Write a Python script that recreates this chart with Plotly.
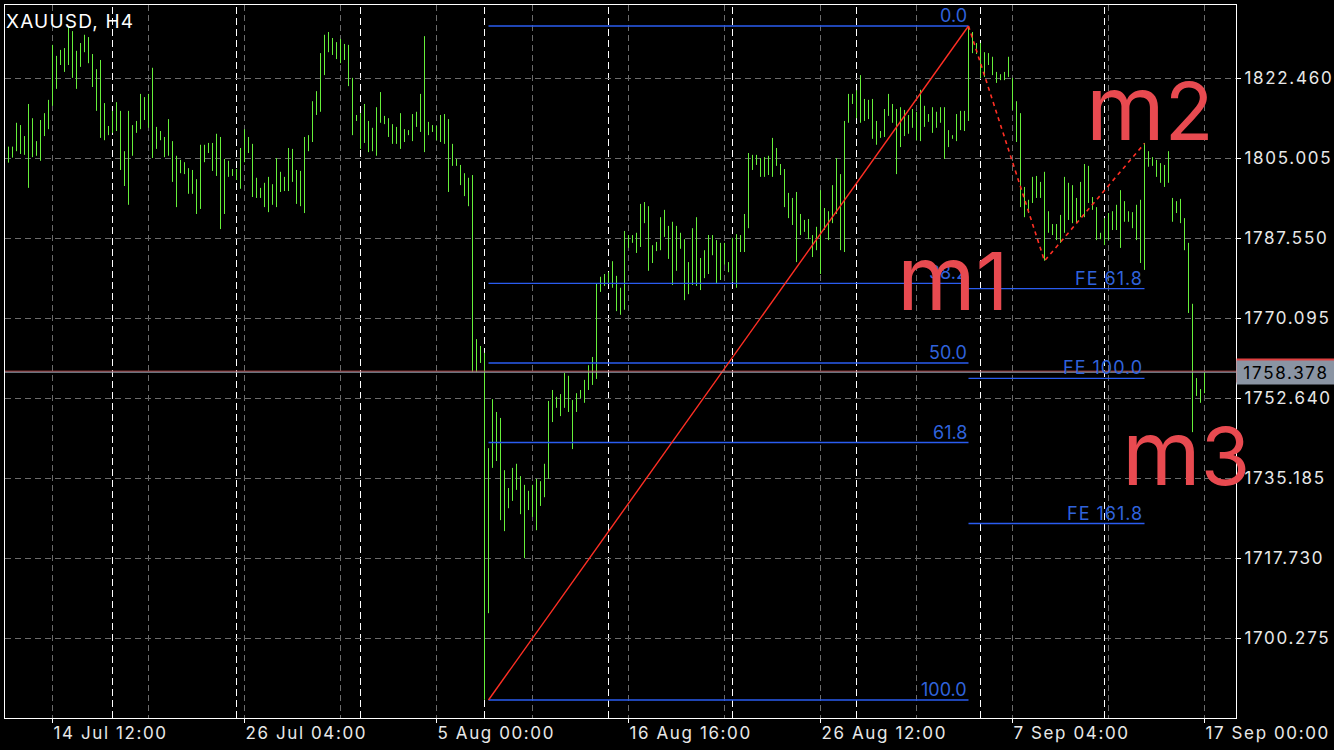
import plotly.graph_objects as go

# ---- instrument / timeframe ----
symbol_title = "XAUUSD, H4"

# ---- H4 bar ranges (index 0 = oldest bar) ----
highs = [
    1807.6, 1807.6, 1812.8, 1812.3, 1809.9, 1816.9, 1813.8, 1808.8, 1813.4, 1814.9,
    1817.8, 1829.8, 1827.4, 1828.7, 1829.1, 1833.9, 1832.8, 1828.5, 1830.2, 1832.0,
    1831.5, 1827.8, 1824.5, 1826.5, 1817.1, 1812.1, 1815.4, 1817.3, 1815.4, 1806.6,
    1815.4, 1812.3, 1813.2, 1819.1, 1818.4, 1819.1, 1824.8, 1811.9, 1811.0, 1809.7,
    1813.6, 1808.8, 1805.6, 1804.7, 1804.2, 1802.9, 1802.5, 1800.5, 1808.0, 1808.0,
    1808.4, 1808.4, 1810.4, 1809.7, 1804.9, 1804.5, 1802.7, 1802.7, 1807.3, 1811.4,
    1809.7, 1808.2, 1800.8, 1798.6, 1799.7, 1801.0, 1799.4, 1805.1, 1802.1, 1801.0,
    1807.3, 1807.1, 1802.5, 1802.3, 1809.7, 1810.1, 1817.5, 1819.7, 1828.0, 1832.0,
    1832.6, 1831.3, 1830.4, 1831.1, 1830.0, 1829.8, 1822.6, 1814.5, 1814.9, 1816.9,
    1813.2, 1811.7, 1816.2, 1819.5, 1814.3, 1813.8, 1812.5, 1811.9, 1814.9, 1811.4,
    1811.2, 1814.7, 1815.2, 1819.1, 1831.7, 1813.0, 1812.3, 1812.1, 1814.5, 1814.7,
    1813.6, 1808.2, 1804.9, 1803.6, 1801.8, 1800.8, 1801.4, 1765.6, 1764.1, 1762.6,
    1741.8, 1752.5, 1749.7, 1748.4, 1737.0, 1733.1, 1737.5, 1738.4, 1735.7, 1733.8,
    1732.5, 1733.8, 1735.1, 1734.6, 1738.4, 1752.1, 1754.5, 1753.0, 1753.6, 1758.2,
    1757.6, 1752.3, 1753.8, 1754.5, 1756.7, 1759.9, 1761.7, 1777.8, 1779.2, 1779.8,
    1780.2, 1782.6, 1779.4, 1776.8, 1789.2, 1788.3, 1788.3, 1788.8, 1795.1, 1795.5,
    1794.6, 1786.1, 1786.8, 1792.2, 1793.8, 1790.3, 1791.2, 1790.3, 1788.8, 1787.4,
    1782.4, 1789.8, 1792.2, 1783.3, 1785.0, 1788.3, 1788.3, 1787.2, 1786.6, 1786.6,
    1782.4, 1787.7, 1788.5, 1788.3, 1792.9, 1806.2, 1805.8, 1805.8, 1805.1, 1805.3,
    1805.6, 1809.5, 1807.3, 1803.8, 1802.7, 1797.5, 1796.4, 1797.7, 1792.9, 1791.6,
    1791.8, 1788.3, 1790.1, 1798.1, 1794.2, 1793.5, 1799.2, 1805.1, 1801.6, 1813.2,
    1819.1, 1819.1, 1819.9, 1823.2, 1818.0, 1817.8, 1818.0, 1813.2, 1811.0, 1815.8,
    1819.1, 1816.9, 1815.8, 1816.2, 1815.6, 1814.5, 1815.8, 1815.2, 1820.0, 1816.5,
    1814.7, 1816.2, 1815.2, 1816.2, 1816.2, 1811.2, 1810.1, 1814.7, 1815.4, 1815.4,
    1833.9, 1832.6, 1830.2, 1830.2, 1828.2, 1828.0, 1827.2, 1823.9, 1823.4, 1823.9,
    1827.2, 1822.6, 1817.5, 1814.9, 1798.8, 1796.0, 1801.0, 1801.2, 1799.9, 1802.1,
    1793.5, 1790.7, 1790.7, 1792.7, 1801.0, 1799.7, 1799.2, 1796.4, 1799.9, 1803.8,
    1803.4, 1796.6, 1794.4, 1788.8, 1792.0, 1793.1, 1793.5, 1794.9, 1798.1, 1795.7,
    1793.5, 1793.3, 1794.9, 1796.0, 1808.4, 1806.6, 1805.3, 1804.7, 1804.0, 1803.6,
    1806.6, 1796.4, 1795.7, 1796.2, 1792.0, 1786.6, 1773.3, 1757.1, 1754.7, 1758.4,
]
lows = [
    1804.1, 1805.2, 1806.6, 1806.0, 1805.8, 1798.6, 1805.3, 1805.6, 1804.5, 1809.9,
    1811.4, 1816.5, 1820.2, 1825.4, 1823.9, 1825.4, 1822.6, 1820.2, 1825.0, 1828.2,
    1825.8, 1820.6, 1815.4, 1809.5, 1809.0, 1810.1, 1810.6, 1811.0, 1802.5, 1799.0,
    1794.9, 1805.6, 1810.6, 1811.4, 1813.4, 1811.7, 1805.1, 1807.1, 1809.0, 1805.3,
    1805.6, 1799.9, 1794.4, 1801.8, 1801.6, 1797.3, 1797.3, 1792.9, 1794.0, 1804.2,
    1806.2, 1802.3, 1801.2, 1789.6, 1792.9, 1801.0, 1801.2, 1800.3, 1798.4, 1804.2,
    1806.2, 1796.6, 1796.4, 1796.4, 1794.4, 1793.3, 1794.9, 1794.4, 1797.7, 1797.9,
    1797.9, 1799.9, 1795.1, 1794.6, 1793.1, 1806.6, 1808.6, 1814.5, 1815.2, 1823.2,
    1828.2, 1827.6, 1826.7, 1825.8, 1826.5, 1820.8, 1810.1, 1813.2, 1807.1, 1808.4,
    1806.4, 1806.6, 1805.6, 1812.8, 1812.5, 1809.7, 1808.2, 1808.2, 1807.1, 1808.6,
    1810.1, 1808.8, 1811.9, 1810.8, 1806.4, 1810.1, 1810.8, 1809.0, 1808.6, 1808.2,
    1797.7, 1803.4, 1803.4, 1799.2, 1796.8, 1794.6, 1758.4, 1758.4, 1760.4, 1686.9,
    1705.8, 1737.5, 1739.0, 1726.1, 1723.7, 1728.7, 1730.3, 1732.7, 1727.4, 1717.8,
    1728.3, 1726.8, 1723.9, 1729.2, 1731.1, 1735.1, 1747.5, 1750.6, 1748.8, 1750.6,
    1749.7, 1741.6, 1749.7, 1752.7, 1751.7, 1754.5, 1755.6, 1756.9, 1775.9, 1777.2,
    1777.8, 1776.8, 1771.7, 1770.9, 1772.0, 1785.5, 1786.6, 1784.4, 1785.7, 1790.9,
    1780.5, 1782.2, 1784.8, 1785.0, 1787.9, 1783.1, 1777.4, 1780.5, 1785.3, 1774.1,
    1775.4, 1777.4, 1777.2, 1776.3, 1778.9, 1779.8, 1783.9, 1777.8, 1778.5, 1781.8,
    1780.2, 1778.1, 1776.8, 1784.6, 1784.6, 1789.8, 1802.5, 1803.6, 1801.0, 1801.0,
    1801.4, 1801.0, 1803.4, 1801.4, 1794.4, 1792.0, 1790.5, 1782.4, 1788.3, 1789.0,
    1787.4, 1783.5, 1785.0, 1779.8, 1789.4, 1787.2, 1790.9, 1792.9, 1785.0, 1784.6,
    1812.8, 1816.9, 1813.8, 1812.8, 1813.2, 1813.6, 1809.3, 1808.0, 1809.5, 1809.7,
    1814.3, 1812.8, 1801.6, 1807.5, 1809.9, 1810.4, 1811.7, 1809.0, 1808.8, 1811.9,
    1813.0, 1810.6, 1811.7, 1812.8, 1804.9, 1807.5, 1809.3, 1808.8, 1811.2, 1811.0,
    1813.2, 1828.0, 1827.8, 1822.6, 1822.8, 1825.4, 1823.2, 1821.5, 1822.1, 1822.1,
    1822.8, 1815.6, 1808.6, 1794.4, 1792.2, 1793.1, 1795.3, 1796.4, 1796.4, 1782.7,
    1788.8, 1788.3, 1787.2, 1786.6, 1788.8, 1791.6, 1790.9, 1790.9, 1792.2, 1792.2,
    1795.3, 1793.8, 1787.2, 1787.4, 1786.1, 1787.2, 1789.4, 1789.4, 1785.5, 1791.2,
    1791.2, 1789.8, 1787.2, 1782.2, 1780.7, 1803.2, 1803.4, 1801.0, 1799.7, 1798.8,
    1799.7, 1791.2, 1793.1, 1790.9, 1785.0, 1771.3, 1745.3, 1753.2, 1751.7, 1753.8,
]

# ---- time axis ----
x_tick_idx = [11, 59, 107, 155, 203, 251, 299]
x_tick_text = ["14 Jul 12:00", "26 Jul 04:00", "5 Aug 00:00", "16 Aug 16:00",
               "26 Aug 12:00", "7 Sep 04:00", "17 Sep 00:00"]
x_minor_idx = [35, 83, 131, 179, 227, 275]
week_starts = [26, 57, 88, 119, 150, 181, 212, 243, 274]

# ---- price axis ----
y_tick_vals = [1700.275, 1717.730, 1735.185, 1752.640, 1770.095, 1787.550, 1805.005, 1822.460]

bid_price = 1758.378
ask_price = 1758.600

# ---- Fibonacci retracement (drawn between two bars) ----
fibo_start_idx, fibo_end_idx = 120, 240
fibo_low, fibo_high = 1686.86, 1833.92
fibo_levels = [0.0, 38.2, 50.0, 61.8, 100.0]

# ---- Fibonacci expansion (three anchor points) ----
fe_idx = [240, 259, 284]
fe_price = [1833.92, 1782.66, 1808.30]
fe_levels = [61.8, 100.0, 161.8]

# ---- text objects on the chart ----
mark_letter = ["m", "m", "m"]
mark_digit = ["1", "2", "3"]
mark_idx = [236.0, 285.3, 294.3]
mark_price = [1779.0, 1816.2, 1740.8]

# ---- styling ----
BG = "#000000"
BAR_GREEN = "#66f03a"
GRID = "#6b6b6b"
FIB_BLUE = "#2a5cf0"
FIB_TEXT = "#3063dc"
TREND_RED = "#ff2f24"
MARK_RED = "#e84a50"
AXIS_TEXT = "#e8e8e8"
FONT = "Inter, Liberation Sans, sans-serif"


def spaced(text, px=1.0):
    return f'<span style="letter-spacing:{px}px">{text}</span>'


fig = go.Figure()

# bars as high-low strokes
bx, by = [], []
for i, (h, l) in enumerate(zip(highs, lows)):
    bx += [i, i, None]
    by += [l, h, None]
fig.add_trace(go.Scatter(x=bx, y=by, mode="lines",
                         line=dict(color=BAR_GREEN, width=1),
                         hoverinfo="skip", showlegend=False))

# Fibonacci retracement levels
span = fibo_high - fibo_low
annotations = []
for lvl in fibo_levels:
    p = fibo_high - span * lvl / 100.0
    fig.add_trace(go.Scatter(x=[fibo_start_idx, fibo_end_idx], y=[p, p], mode="lines",
                             line=dict(color=FIB_BLUE, width=1.3),
                             hoverinfo="skip", showlegend=False))
    annotations.append(dict(x=fibo_end_idx, y=p, xref="x", yref="y",
                            text=f"{lvl:.1f}", showarrow=False,
                            xanchor="right", yanchor="bottom", yshift=-2,
                            font=dict(family=FONT, size=18, color=FIB_TEXT)))

# retracement trend line
fig.add_trace(go.Scatter(x=[fibo_start_idx, fibo_end_idx], y=[fibo_low, fibo_high],
                         mode="lines", line=dict(color=TREND_RED, width=1.4),
                         hoverinfo="skip", showlegend=False))

# Fibonacci expansion levels
swing = fe_price[0] - fe_price[1]
for lvl in fe_levels:
    p = fe_price[2] - swing * lvl / 100.0
    fig.add_trace(go.Scatter(x=[fe_idx[0], fe_idx[2]], y=[p, p], mode="lines",
                             line=dict(color=FIB_BLUE, width=1.3),
                             hoverinfo="skip", showlegend=False))
    annotations.append(dict(x=fe_idx[2], y=p, xref="x", yref="y",
                            text=spaced(f"FE {lvl:.1f}", 1.0), showarrow=False,
                            xanchor="right", yanchor="bottom", yshift=-2,
                            font=dict(family=FONT, size=18, color=FIB_TEXT)))

# expansion zig-zag
fig.add_trace(go.Scatter(x=fe_idx, y=fe_price, mode="lines",
                         line=dict(color=TREND_RED, width=1.6, dash="4px,4px"),
                         hoverinfo="skip", showlegend=False))

# weekly period separators
shapes = []
for w in week_starts:
    shapes.append(dict(type="line", xref="x", yref="paper", x0=w, x1=w, y0=0, y1=1,
                       line=dict(color="#ffffff", width=1, dash="7px,4px"), layer="below"))

# ask / bid lines
shapes.append(dict(type="line", xref="paper", yref="y", x0=0, x1=1, y0=ask_price, y1=ask_price,
                   line=dict(color="#c04848", width=1)))
shapes.append(dict(type="line", xref="paper", yref="y", x0=0, x1=1, y0=bid_price, y1=bid_price,
                   line=dict(color="#9aa6b6", width=1)))

# price labels on the scale (ask tag sits just behind the bid tag)
annotations.append(dict(x=1, y=ask_price, xref="paper", yref="y", text="",
                        showarrow=False, xanchor="left", yanchor="middle", yshift=1,
                        width=98, height=23, bgcolor="#e04040", borderpad=0))
annotations.append(dict(x=1, y=bid_price, xref="paper", yref="y",
                        text=spaced(f"{bid_price:.3f}", 1.7),
                        showarrow=False, xanchor="left", yanchor="middle", align="center",
                        width=98, height=23, bgcolor="#8a94a3", borderpad=0,
                        font=dict(family=FONT, size=17, color="#000000")))

# text objects
for letter, digit, xi, yp in zip(mark_letter, mark_digit, mark_idx, mark_price):
    annotations.append(dict(x=xi, y=yp, xref="x", yref="y",
                            text=f'<span style="font-size:90px">{letter}</span>{digit}',
                            showarrow=False, xanchor="center", yanchor="middle",
                            font=dict(family=FONT, size=80, color=MARK_RED)))

# symbol caption
annotations.append(dict(x=0, y=1, xref="paper", yref="paper", text=spaced(symbol_title, 1.2),
                        showarrow=False, xanchor="left", yanchor="top", xshift=-1, yshift=-3,
                        font=dict(family=FONT, size=19, color="#ffffff")))

fig.update_layout(
    width=1334, height=750,
    margin=dict(l=5, r=98, t=5, b=32, autoexpand=False),
    paper_bgcolor=BG, plot_bgcolor=BG,
    showlegend=False,
    shapes=shapes,
    annotations=annotations,
    xaxis=dict(
        range=[-0.875, 306.875], fixedrange=True, automargin=False,
        tickmode="array", tickvals=x_tick_idx,
        ticktext=[spaced(t, 1.6) for t in x_tick_text],
        ticks="outside", ticklen=4, tickcolor="#ffffff", tickwidth=1,
        ticklabelposition="outside right",
        tickfont=dict(family=FONT, size=17, color=AXIS_TEXT),
        showgrid=True, gridcolor=GRID, griddash="6px,4px", gridwidth=1,
        minor=dict(tickmode="array", tickvals=x_minor_idx, showgrid=True,
                   gridcolor=GRID, griddash="6px,4px", gridwidth=1, ticks=""),
        showline=True, linecolor="#ffffff", linewidth=1, mirror=True,
        zeroline=False,
    ),
    yaxis=dict(
        range=[1682.929, 1838.497], fixedrange=True, side="right", automargin=False,
        tickmode="array", tickvals=y_tick_vals,
        ticktext=[spaced(f"{v:.3f}", 1.7) for v in y_tick_vals],
        ticks="outside", ticklen=4, tickcolor="#ffffff", tickwidth=1,
        tickfont=dict(family=FONT, size=17, color=AXIS_TEXT),
        showgrid=True, gridcolor=GRID, griddash="6px,4px", gridwidth=1,
        showline=True, linecolor="#ffffff", linewidth=1, mirror=True,
        zeroline=False,
    ),
)

fig.write_html("out.html")
